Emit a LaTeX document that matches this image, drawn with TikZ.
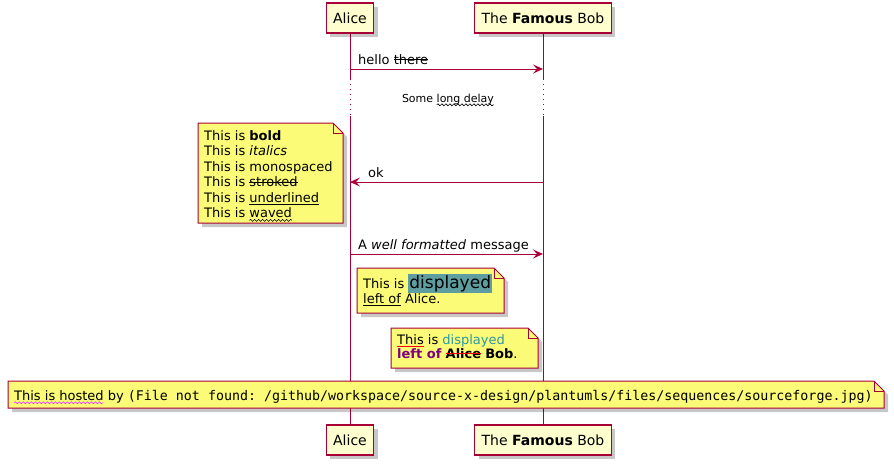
\documentclass[tikz,border=0pt]{standalone}
\usepackage{fontspec}
\setmainfont{DejaVu Sans}
\setmonofont{DejaVu Sans Mono}
\usetikzlibrary{arrows.meta,shadows,decorations.pathmorphing}

\definecolor{umlred}{HTML}{A80036}
\definecolor{partfill}{HTML}{FEFECE}
\definecolor{notefill}{HTML}{FBFB77}
\definecolor{cadet}{HTML}{5F9EA0}
\definecolor{tealtext}{HTML}{2A9AA2}
\definecolor{leftof}{HTML}{800080}
\definecolor{wavepink}{HTML}{FF33FF}

% text decorations
\newsavebox\decobox
\newlength\decolen
\newcommand\strk[2][black]{\sbox\decobox{#2}\setlength\decolen{\wd\decobox}%
  \usebox\decobox\llap{\textcolor{#1}{\rule[0.3em]{\decolen}{0.8pt}}}}
\newcommand\undl[2][black]{\sbox\decobox{#2}\setlength\decolen{\wd\decobox}%
  \usebox\decobox\llap{\textcolor{#1}{\rule[-2.5pt]{\decolen}{0.8pt}}}}
\newcommand\wavy[2][black]{\sbox\decobox{#2}\setlength\decolen{\wd\decobox}%
  \rlap{\tikz[overlay]\draw[#1,line width=0.6pt,decorate,
    decoration={snake,amplitude=1pt,segment length=4pt}] (0pt,-2.8pt) -- (\decolen,-2.8pt);}%
  \usebox\decobox}

% note with folded corner, from (x1,y1) to (x2,y2)
\newcommand\umlnote[4]{%
  \filldraw[note] (#1,#2) -- (#3-10,#2) -- (#3,#2+10) -- (#3,#4) -- (#1,#4) -- cycle;
  \draw[notefold] (#3-10,#2) -- (#3-10,#2+10) -- (#3,#2+10);}

\pgfdeclarelayer{lifelines}
\pgfsetlayers{lifelines,main}

\tikzset{
  umlshadow/.style={drop shadow={shadow xshift=4pt,shadow yshift=-4pt,fill=black,opacity=0.22}},
  part/.style={draw=umlred,fill=partfill,line width=1.2pt,minimum height=30pt,
    inner xsep=7pt,font=\fontsize{14}{16}\selectfont,umlshadow},
  life/.style={draw=umlred,line width=1pt},
  msg/.style={draw=umlred,line width=1pt,-{Stealth[length=10pt,width=9pt,inset=4pt]}},
  note/.style={draw=umlred,fill=notefill,line width=1pt,umlshadow},
  notefold/.style={draw=umlred,line width=1pt},
  txt/.style={inner sep=0pt,font=\fontsize{13}{15.5}\selectfont},
  notetext/.style={txt,align=left,anchor=north west}
}

\begin{document}
\begin{tikzpicture}[x=1pt,y=-1pt]
    \useasboundingbox (0,0) rectangle (894,466);

    \node[part] (aliceTop) at (350,18)  {Alice};
    \node[part] (bobTop)   at (543,18)  {The \textbf{Famous} Bob};
    \node[part] (aliceBot) at (350,440) {Alice};
    \node[part] (bobBot)   at (543,440) {The \textbf{Famous} Bob};

    \coordinate (aliceD1) at (350,79);
    \coordinate (aliceD2) at (350,116);
    \coordinate (bobD1)   at (543,79);
    \coordinate (bobD2)   at (543,116);

    \begin{pgfonlayer}{lifelines}
    \draw[life] (aliceTop) -- (aliceD1);
    \draw[life,dash pattern=on 1pt off 4pt] (aliceD1) -- (aliceD2);
    \draw[life] (aliceD2) -- (aliceBot);
    \draw[life] (bobTop) -- (bobD1);
    \draw[life,dash pattern=on 1pt off 4pt] (bobD1) -- (bobD2);
    \draw[life] (bobD2) -- (bobBot);
    \end{pgfonlayer}

    % hello there
    \coordinate (helloA) at (350,69);
    \coordinate (helloB) at (543,69);
    \draw[msg] (helloA) -- (helloB);
    \node[txt,anchor=base west] (hello) at (358,64) {hello \strk{there}};

    % delay
    \node[txt,font=\fontsize{11}{13}\selectfont,anchor=base] (delay) at (448,102)
        {Some \wavy{long delay}};

    % ok
    \coordinate (okB) at (543,182);
    \coordinate (okA) at (350,182);
    \draw[msg] (okB) -- (okA);
    \node[txt,anchor=base west] (ok) at (368,177) {ok};

    \umlnote{198}{123}{343}{223}
    \node[notetext] (styles) at (204,130) {This is \textbf{bold}\\
        This is \textit{italics}\\
        This is monospaced\\
        This is \strk{stroked}\\
        This is \undl{underlined}\\
        This is \wavy{waved}};

    % well formatted
    \coordinate (wellA) at (350,254);
    \coordinate (wellB) at (543,254);
    \draw[msg] (wellA) -- (wellB);
    \node[txt,anchor=base west] (well) at (358,249) {A \textit{well formatted} message};

    \umlnote{357}{268}{504}{313}
    \node[notetext] (leftAlice) at (363,274) {This is {\setlength{\fboxsep}{1pt}%
        \colorbox{cadet}{\fontsize{17}{19}\selectfont displayed}}\\
        \undl{left of} Alice.};

    \umlnote{391}{328}{538}{368}
    \node[notetext,font=\fontsize{13}{14}\selectfont] (leftBob) at (397,334)
        {\undl[red]{This} is \textcolor{tealtext}{displayed}\\
        \textcolor{leftof}{\textbf{left of}} \strk[red]{\textbf{Alice}} \textbf{Bob}.};

    \umlnote{8}{381}{884}{408}
    \node[txt,anchor=base west] (hosted) at (14,400) {\wavy[wavepink]{This is hosted} by
        {\fontsize{13.3}{15}\selectfont\texttt{(File not found: /github/workspace/source-x-design/plantumls/files/sequences/sourceforge.jpg)}}};
\end{tikzpicture}
\end{document}
